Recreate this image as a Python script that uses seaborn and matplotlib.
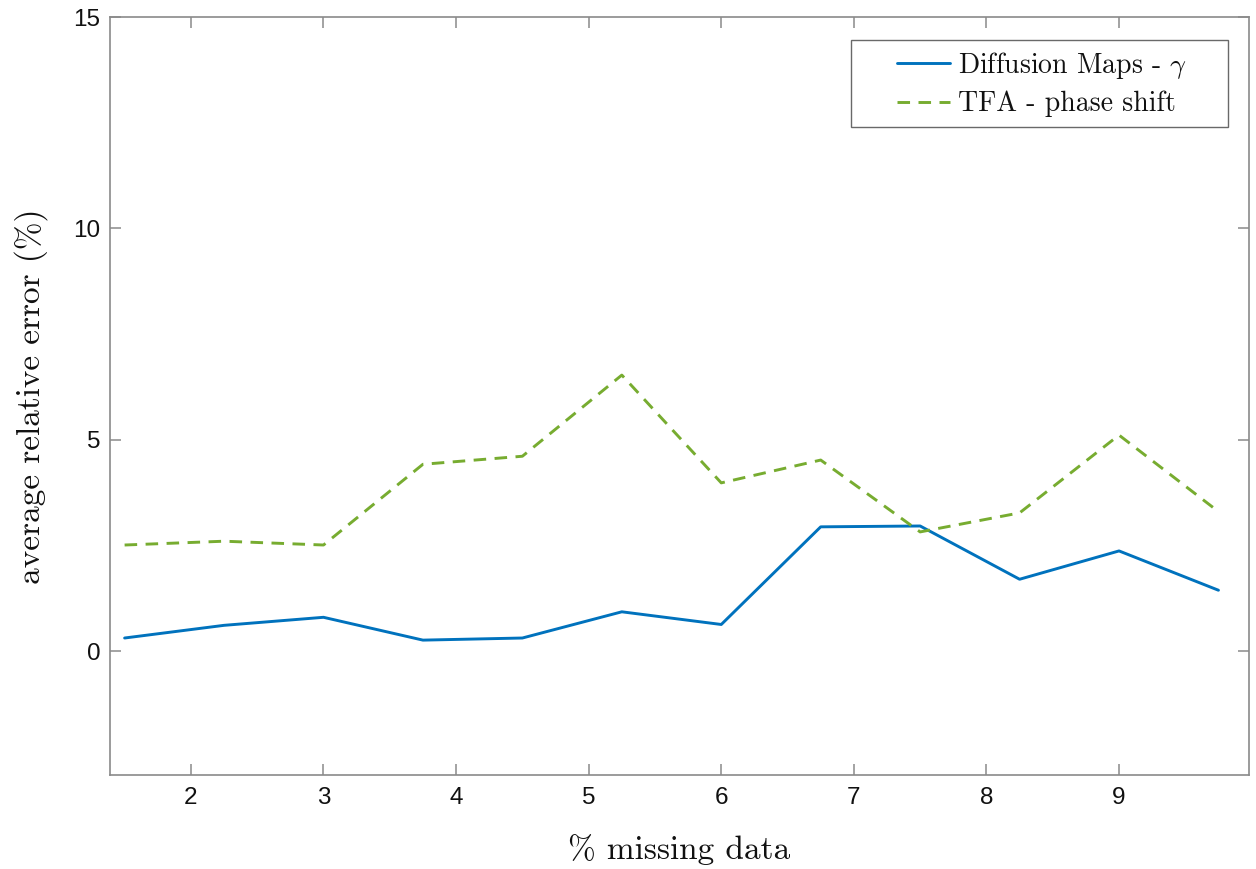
import matplotlib
matplotlib.use("Agg")
import matplotlib.pyplot as plt
from matplotlib.lines import Line2D
from matplotlib.legend_handler import HandlerLine2D
import seaborn as sns
import pandas as pd

# Data
missing_pct = [1.5, 2.25, 3.0, 3.75, 4.5, 5.25, 6.0, 6.75, 7.5, 8.25, 9.0, 9.75]
diffusion_gamma = [0.31, 0.61, 0.80, 0.26, 0.31, 0.93, 0.63, 2.94, 2.96, 1.70, 2.37, 1.44]
tfa_phase = [2.51, 2.60, 2.51, 4.42, 4.61, 6.53, 3.98, 4.52, 2.82, 3.27, 5.11, 3.30]
series_names = [r"Diffusion Maps - $\gamma$", "TFA - phase shift"]
x_ticks = [2, 3, 4, 5, 6, 7, 8, 9]
y_ticks = [0, 5, 10, 15]

sns.set_style("ticks")
plt.rcParams["font.family"] = ["Liberation Sans", "DejaVu Sans"]
plt.rcParams["mathtext.fontset"] = "cm"

df = pd.DataFrame({
    "x": missing_pct * 2,
    "y": diffusion_gamma + tfa_phase,
    "series": [series_names[0]] * len(missing_pct) + [series_names[1]] * len(missing_pct),
})

fig = plt.figure(figsize=(12.56, 8.69), dpi=100)
ax = fig.add_axes([0.0876, 0.1082, 0.9068, 0.8722])

sns.lineplot(data=df, x="x", y="y", hue="series", style="series",
             palette={series_names[0]: "#0072BD", series_names[1]: "#77AC30"},
             dashes={series_names[0]: "", series_names[1]: (4.3, 2.9)},
             linewidth=2.1, ax=ax, sort=False, estimator=None)

ax.set_xlim(1.39, 9.98)
ax.set_ylim(-2.93, 15)
ax.set_xticks(x_ticks)
ax.set_yticks(y_ticks)

edge = "#8a8a8a"
for s in ax.spines.values():
    s.set_visible(True)
    s.set_color(edge)
    s.set_linewidth(1.2)
ax.tick_params(direction="in", length=8, width=1.1, color=edge,
               top=True, right=True, labelsize=17.5, labelcolor="#111111")
ax.tick_params(axis="x", pad=9)
ax.tick_params(axis="y", pad=7)

ax.set_xlabel("% missing data", fontfamily="cmr10", fontsize=24, labelpad=18, color="#111111")
ax.set_ylabel("average relative error (%)", fontfamily="cmr10", fontsize=24, labelpad=18, color="#111111")

handles, labels = ax.get_legend_handles_labels()
leg = ax.legend(handles=handles, labels=labels, loc="upper left",
                bbox_to_anchor=(0.6506, 0.0, 0.331, 0.9697), mode="expand",
                borderaxespad=0.0, frameon=True, fancybox=False,
                prop={"family": "cmr10", "size": 20}, handlelength=3.2,
                handler_map={Line2D: HandlerLine2D(xpad=1.3)},
                borderpad=0.35, labelspacing=0.37, handletextpad=0.3)
leg.get_frame().set_edgecolor("#444444")
leg.get_frame().set_linewidth(1.0)
for t in leg.get_texts():
    t.set_color("#111111")

fig.savefig("out.png", dpi=100)
